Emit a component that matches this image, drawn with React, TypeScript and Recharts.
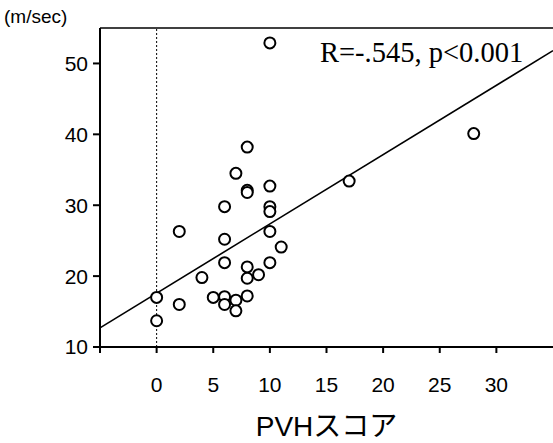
import {
	ScatterChart,
	Scatter,
	XAxis,
	YAxis,
	ReferenceLine,
	Label
} from 'recharts';

// PVH score vs velocity (m/sec)
const pvhScore = [0, 0, 2, 2, 4, 5, 6, 6, 6, 6, 6, 7, 7, 7, 8, 8, 8, 8, 8, 8, 9, 10, 10, 10, 10, 10, 10, 11, 17, 28];
const velocity = [17.0, 13.7, 26.3, 16.0, 19.8, 17.0, 29.8, 25.2, 21.9, 17.1, 16.0, 34.5, 16.6, 15.1, 38.2, 32.1, 31.8, 21.3, 19.7, 17.2, 20.2, 52.9, 32.7, 29.8, 29.1, 26.3, 21.9, 24.1, 33.4, 40.1];

// regression line end points
const fitX = [-5, 35];
const fitY = [12.7, 51.8];

const xTicks = [-5, 0, 5, 10, 15, 20, 25, 30];
const yTicks = [10, 20, 30, 40, 50];

const points = pvhScore.map((x, i) => ({ x, y: velocity[i] }));
const fit = fitX.map((x, i) => ({ x, y: fitY[i] }));

const sans = '"Liberation Sans", Arial, sans-serif';

const OpenCircle = (props: any) => {
	const { cx, cy } = props;
	return <circle cx={cx} cy={cy} r={5.5} fill='#fff' stroke='#000' strokeWidth={2} />;
};

const NoDot = () => <g />;

const App = () => {
	return (
		<div style={{ position: 'absolute', left: 0, top: 0, background: '#fff' }}>
			<ScatterChart
				width={553}
				height={443}
				margin={{ top: 28, right: 0, left: 1, bottom: 0 }}
			>
				<XAxis
					type='number'
					dataKey='x'
					domain={[-5, 35]}
					ticks={xTicks}
					tickFormatter={(v) => (v < 0 ? '' : String(v))}
					height={96}
					stroke='#000'
					strokeWidth={2}
					tickSize={6}
					tickMargin={24}
					tick={{ fill: '#000', fontSize: 21, fontFamily: sans }}
				>
					<Label
						value='PVHスコア'
						position='insideBottom'
						offset={7}
						style={{ fill: '#000', fontSize: 28, fontFamily: '"Liberation Sans", "Noto Sans CJK JP", sans-serif' }}
					/>
				</XAxis>
				<YAxis
					type='number'
					dataKey='y'
					domain={[10, 55]}
					ticks={yTicks}
					width={99}
					stroke='#000'
					strokeWidth={2}
					tickSize={7}
					tickMargin={5}
					tick={{ fill: '#000', fontSize: 21, fontFamily: sans }}
				/>
				<ReferenceLine y={55} stroke='#000' strokeWidth={1.5} />
				<ReferenceLine x={0} stroke='#000' strokeWidth={1} strokeDasharray='2 2' />
				<Scatter
					data={fit}
					line={{ stroke: '#000', strokeWidth: 1.6 }}
					shape={NoDot}
					isAnimationActive={false}
				/>
				<Scatter data={points} shape={OpenCircle} isAnimationActive={false} />
				<text x={4} y={23} fontSize={19} fontFamily={sans} fill='#000'>
					(m/sec)
				</text>
				<text x={320} y={62} fontSize={28.5} fontFamily='"Liberation Serif", "Times New Roman", serif' fill='#000'>
					R=-.545, p&lt;0.001
				</text>
			</ScatterChart>
		</div>
	);
};

export default App;
